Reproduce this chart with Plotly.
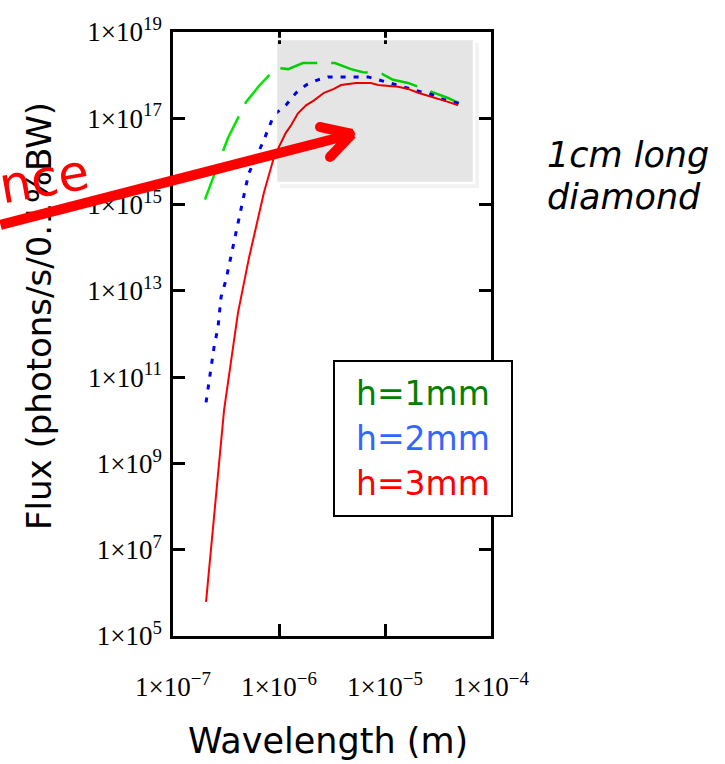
import plotly.graph_objects as go

# ---------------- data ----------------
wl_h1 = [2.00e-7, 2.84e-7, 3.30e-7, 4.89e-7, 6.47e-7, 9.4e-7, 1.22e-6, 1.68e-6, 3.37e-6,
         4.78e-6, 6.19e-6, 9.4e-6, 1.19e-5, 1.65e-5, 2.05e-5, 2.84e-5, 3.93e-5, 4.99e-5]
flux_h1 = [1.3e15, 1.26e16, 3.5e16, 2.4e17, 5.6e17, 1.48e18, 1.38e18, 1.9e18, 1.9e18,
           1.38e18, 1.17e18, 1.07e18, 7.8e17, 6.6e17, 5.4e17, 3.9e17, 2.95e17, 2.24e17]

wl_h2 = [2.05e-7, 2.28e-7, 2.44e-7, 2.66e-7, 2.84e-7, 3.16e-7, 3.68e-7, 4.10e-7, 4.89e-7,
         5.21e-7, 7.06e-7, 8.97e-7, 1.16e-6, 1.45e-6, 1.80e-6, 2.33e-6, 2.90e-6, 6.92e-6,
         8.59e-6, 1.09e-5, 1.36e-5, 1.76e-5, 2.19e-5, 2.72e-5, 3.37e-5, 4.02e-5, 4.99e-5]
flux_h2 = [2.6e10, 1.7e11, 5.0e11, 1.45e12, 7.2e12, 1.8e13, 1.05e14, 4.4e14, 2.8e15,
           5.4e15, 2.8e16, 1.2e17, 2.0e17, 3.9e17, 5.9e17, 7.8e17, 9.1e17, 9.1e17,
           7.8e17, 6.6e17, 5.6e17, 4.8e17, 4.1e17, 3.6e17, 2.8e17, 2.5e17, 2.24e17]

wl_h3 = [2.05e-7, 3.03e-7, 4.10e-7, 5.21e-7, 6.19e-7, 7.21e-7, 8.97e-7, 1.04e-6, 1.16e-6,
         1.30e-6, 1.51e-6, 1.80e-6, 2.14e-6, 2.66e-6, 3.30e-6, 3.85e-6, 5.32e-6, 7.38e-6,
         8.59e-6, 1.33e-5, 1.65e-5, 2.05e-5, 2.60e-5, 3.16e-5, 3.93e-5, 4.89e-5]
flux_h3 = [6.2e5, 1.7e10, 3.1e12, 5.8e13, 3.7e14, 1.9e15, 1.26e16, 2.7e16, 4.6e16,
           6.9e16, 1.3e17, 2.0e17, 2.6e17, 3.9e17, 4.8e17, 5.9e17, 6.6e17, 6.6e17,
           5.9e17, 5.4e17, 4.8e17, 3.9e17, 3.3e17, 2.8e17, 2.4e17, 2.0e17]

series_names = ["h=1mm", "h=2mm", "h=3mm"]
x_tick_vals = [1e-7, 1e-6, 1e-5, 1e-4]
x_tick_text = ["1×10<sup>−7</sup>", "1×10<sup>−6</sup>", "1×10<sup>−5</sup>", "1×10<sup>−4</sup>"]
y_tick_vals = [1e5, 1e7, 1e9, 1e11, 1e13, 1e15, 1e17, 1e19]
y_tick_text = ["1×10<sup>5</sup>", "1×10<sup>7</sup>", "1×10<sup>9</sup>", "1×10<sup>11</sup>",
               "1×10<sup>13</sup>", "1×10<sup>15</sup>", "1×10<sup>17</sup>", "1×10<sup>19</sup>"]

# ---------------- layout geometry ----------------
W, H = 725, 764
L, R, T, B = 173, 491, 32, 636


def px(x):
    return (x - L) / (R - L)


def py(y):
    return (B - y) / (B - T)


SANS = "DejaVu Sans"
SERIF = "Liberation Serif"

fig = go.Figure()
fig.add_trace(go.Scatter(x=wl_h1, y=flux_h1, mode="lines", name=series_names[0],
                         line=dict(color="#00e600", width=2.5, dash="38px,14px")))
fig.add_trace(go.Scatter(x=wl_h2, y=flux_h2, mode="lines", name=series_names[1],
                         line=dict(color="#0000ff", width=3, dash="5px,8px")))
fig.add_trace(go.Scatter(x=wl_h3, y=flux_h3, mode="lines", name=series_names[2],
                         line=dict(color="#ff0000", width=2)))

axis_common = dict(type="log", showline=True, linecolor="black", linewidth=2.5, mirror="ticks",
                   ticks="inside", ticklen=12, tickwidth=2.5, tickcolor="black",
                   showgrid=False, zeroline=False,
                   tickfont=dict(family=SERIF, size=27, color="black"))

fig.update_xaxes(range=[-7, -4], tickvals=x_tick_vals, ticktext=x_tick_text,
                 ticklabelstandoff=25, **axis_common)
fig.update_yaxes(range=[5, 19], tickvals=y_tick_vals, ticktext=y_tick_text,
                 ticklabelstandoff=3, **axis_common)


def circle(cx, cy, r, color):
    return dict(type="circle", xref="paper", yref="paper",
                x0=px(cx - r), x1=px(cx + r), y0=py(cy + r), y1=py(cy - r),
                fillcolor=color, line=dict(width=0), layer="above")


shadow_path = "M {} {} L {} {} L {} {} L {} {} L {} {} L {} {} Z".format(
    px(475), py(43), px(479), py(43), px(479), py(188),
    px(280), py(188), px(280), py(184), px(475), py(184))

shapes = [
    # soft shadow of the highlight box (bottom and right edges)
    dict(type="path", xref="paper", yref="paper", path=shadow_path,
         fillcolor="rgba(0,0,0,0.05)", line=dict(width=0), layer="above"),
    # grey highlight box
    dict(type="rect", xref="paper", yref="paper", x0=px(276), x1=px(474), y0=py(183), y1=py(39),
         fillcolor="rgba(0,0,0,0.10)", line=dict(color="white", width=2.5), layer="above"),
    # legend box
    dict(type="rect", xref="paper", yref="paper", x0=px(334), x1=px(512), y0=py(516), y1=py(361),
         fillcolor="white", line=dict(color="black", width=2), layer="above"),
    # rounded ends of the arrow head
    circle(320, 127, 5, "#ff0000"),
    circle(330, 157, 5, "#ff0000"),
    circle(350, 134, 5, "#ff0000"),
]

legend_colors = ["#008000", "#3366ff", "#ff0000"]
legend_y = [393, 438, 483]

annotations = []
for name, col, yy in zip(series_names, legend_colors, legend_y):
    annotations.append(dict(text=name, xref="paper", yref="paper", x=px(423), y=py(yy),
                            xanchor="center", yanchor="middle", showarrow=False,
                            font=dict(family=SANS, size=33, color=col)))

annotations += [
    dict(text="Wavelength (m)", xref="paper", yref="paper", x=px(328), y=py(741),
         xanchor="center", yanchor="middle", showarrow=False,
         font=dict(family=SANS, size=35, color="black")),
    dict(text="Flux (photons/s/0.1%BW)", xref="paper", yref="paper", x=px(39), y=py(316),
         xanchor="center", yanchor="middle", textangle=-90, showarrow=False,
         font=dict(family=SANS, size=34, color="black")),
    dict(text="<i>1cm long</i>", xref="paper", yref="paper", x=px(545), y=py(155),
         xanchor="left", yanchor="middle", showarrow=False,
         font=dict(family=SANS, size=35, color="black")),
    dict(text="<i>diamond</i>", xref="paper", yref="paper", x=px(545), y=py(197),
         xanchor="left", yanchor="middle", showarrow=False,
         font=dict(family=SANS, size=35, color="black")),
    dict(text="nce", xref="paper", yref="paper", x=px(44), y=py(179),
         xanchor="center", yanchor="middle", textangle=-10, showarrow=False,
         font=dict(family=SANS, size=50, color="#ff0000")),
]

# red arrow (shaft + two head arms), drawn on top of the texts
tip_x, tip_y = 352, 134
arrow_parts = [
    (349, 135, -360, 90),
    (tip_x, tip_y, -32, -7),
    (tip_x, tip_y, -22, 23),
]
for hx, hy, ax, ay in arrow_parts:
    annotations.append(dict(text=" ", xref="paper", yref="paper", x=px(hx), y=py(hy),
                            ax=ax, ay=ay, showarrow=True, arrowhead=0, arrowwidth=10,
                            arrowcolor="#ff0000", standoff=0, startstandoff=0,
                            font=dict(size=1), borderpad=0))

fig.update_layout(width=W, height=H, autosize=False,
                  margin=dict(l=L, r=W - R, t=T, b=H - B, pad=0),
                  plot_bgcolor="white", paper_bgcolor="white",
                  showlegend=False, shapes=shapes, annotations=annotations)

fig.write_html("out.html", config={"displayModeBar": False},
               post_script="document.body.style.margin='0px';")
